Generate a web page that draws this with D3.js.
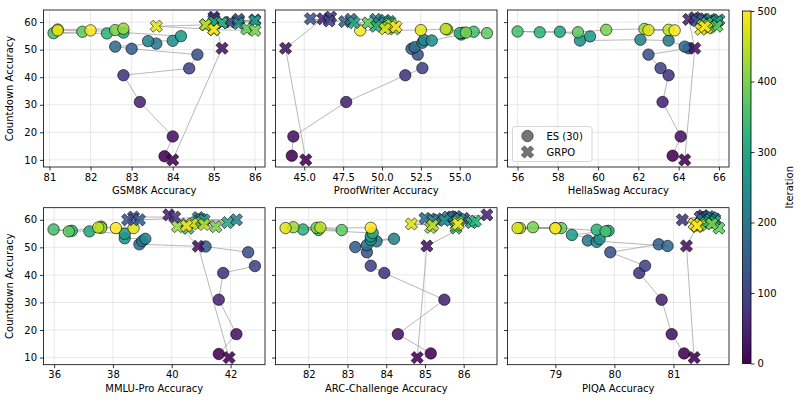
<!DOCTYPE html>
<html>
<head>
<meta charset="utf-8">
<script src="https://cdn.jsdelivr.net/npm/d3@7/dist/d3.min.js"></script>
<style>
  body { margin: 0; background: #fff; }
  svg { font-family: "DejaVu Sans", sans-serif; }
</style>
</head>
<body>
<div id="chart"></div>
<script>
// iteration of each checkpoint (colour)
var iterations = [0, 25, 50, 75, 100, 125, 150, 175, 200, 225, 250, 275, 300, 325, 350, 375, 400, 425, 450, 475, 500];

// GSM8K
var gsmEsX = [83.8, 84.0, 83.2, 82.8, 84.4, 84.6, 83.0, 82.6, 83.6, 83.4, 84.0, 84.2, 82.8, 82.4, 81.1, 81.8, 82.6, 82.8, 81.2, 81.2, 82.0];
var gsmEsY = [11.3, 18.5, 31.0, 40.7, 43.2, 48.2, 50.3, 51.1, 52.2, 53.1, 53.2, 54.9, 56.2, 55.9, 56.0, 56.5, 57.1, 57.6, 57.3, 57.0, 57.0];
var gsmGrpoX = [84.0, 85.2, 85.0, 85.0, 85.4, 85.6, 85.6, 85.2, 86.0, 85.0, 85.6, 86.0, 85.0, 85.2, 84.8, 85.8, 86.0, 85.0, 84.8, 83.6, 85.0];
var gsmGrpoY = [10.0, 50.5, 61.8, 61.0, 60.0, 60.5, 61.0, 59.8, 60.8, 59.5, 59.5, 60.5, 60.0, 59.7, 59.0, 57.5, 57.0, 57.2, 59.0, 58.5, 57.3];

// ProofWriter
var pwEsX = [44.2, 44.3, 47.7, 51.5, 52.6, 52.3, 51.9, 52.1, 52.6, 52.7, 53.2, 55.1, 55.2, 55.0, 55.9, 56.75, 55.4, 54.2, 54.1, 52.5, 48.6];
var pwEsY = [11.5, 18.5, 31.0, 40.7, 43.3, 48.2, 50.3, 50.9, 52.5, 53.5, 53.3, 55.5, 56.1, 56.0, 56.5, 56.0, 56.2, 57.3, 57.5, 57.1, 57.0];
var pwGrpoX = [45.1, 43.8, 46.2, 46.7, 46.6, 45.4, 47.6, 48.0, 49.6, 50.2, 49.8, 50.5, 48.2, 49.6, 50.5, 49.1, 50.8, 50.4, 50.6, 50.2, 50.9];
var pwGrpoY = [10.0, 50.5, 61.2, 61.8, 60.4, 61.2, 60.2, 61.0, 61.0, 60.6, 59.6, 60.2, 59.8, 58.5, 59.4, 59.7, 57.5, 58.2, 59.0, 57.6, 58.3];

// HellaSwag
var hsEsX = [63.7, 64.1, 63.2, 63.5, 63.1, 62.5, 64.5, 64.3, 63.5, 62.1, 59.1, 59.6, 58.1, 57.1, 56.0, 59.0, 60.4, 62.3, 63.5, 62.5, 63.8];
var hsEsY = [11.5, 18.5, 31.0, 40.7, 43.3, 48.2, 50.5, 51.1, 53.3, 53.6, 53.3, 54.8, 56.5, 56.3, 56.6, 56.3, 57.2, 57.5, 57.2, 57.1, 57.0];
var hsGrpoX = [64.3, 64.8, 64.5, 64.8, 65.0, 64.9, 65.2, 65.5, 65.6, 65.8, 66.0, 65.7, 65.9, 65.6, 65.4, 65.9, 65.5, 65.2, 65.4, 65.1, 65.3];
var hsGrpoY = [10.0, 50.5, 61.0, 61.6, 61.2, 60.5, 61.0, 60.5, 61.0, 60.0, 60.8, 59.5, 60.2, 59.0, 59.6, 58.5, 58.0, 58.8, 57.8, 57.4, 58.4];

// MMLU-Pro
var mmEsX = [41.6, 42.2, 41.6, 41.75, 42.83, 42.6, 41.15, 38.9, 39.0, 39.1, 38.4, 38.4, 37.2, 36.6, 35.98, 36.5, 37.6, 37.6, 37.5, 38.7, 38.1];
var mmEsY = [11.3, 18.5, 31.0, 40.7, 43.2, 48.2, 50.3, 51.1, 52.3, 53.1, 53.3, 54.9, 55.8, 56.0, 56.5, 55.8, 57.5, 57.1, 57.2, 57.0, 57.0];
var mmGrpoX = [41.95, 40.9, 39.9, 40.1, 38.7, 38.5, 38.9, 40.9, 41.0, 42.2, 40.9, 41.1, 41.9, 40.5, 40.55, 40.8, 41.5, 40.2, 41.1, 40.7, 40.5];
var mmGrpoY = [10.0, 50.4, 61.8, 61.0, 61.0, 60.0, 60.0, 60.8, 60.1, 60.0, 59.3, 60.0, 59.0, 58.4, 56.9, 59.0, 57.5, 57.5, 58.3, 58.5, 57.8];

// ARC-Challenge
var arcEsX = [85.15, 84.3, 85.5, 83.95, 83.6, 83.5, 83.2, 83.5, 83.75, 84.2, 83.6, 83.6, 83.65, 81.85, 82.25, 82.85, 82.2, 81.6, 82.3, 81.4, 83.6];
var arcEsY = [11.5, 18.5, 31.0, 40.7, 43.3, 48.2, 50.1, 50.8, 52.2, 53.1, 52.7, 54.0, 55.2, 56.5, 56.3, 56.3, 57.1, 57.3, 57.2, 57.0, 57.1];
var arcGrpoX = [84.8, 85.05, 86.6, 85.7, 86.0, 85.8, 85.3, 85.0, 85.6, 85.2, 85.5, 85.9, 86.2, 86.3, 85.8, 85.8, 85.85, 85.15, 85.2, 84.65, 85.85];
var arcGrpoY = [10.0, 50.5, 61.8, 61.0, 60.5, 61.2, 60.3, 60.5, 61.0, 59.9, 59.8, 60.2, 59.0, 59.5, 57.0, 58.0, 59.3, 57.2, 58.0, 58.5, 58.4];

// PIQA
var piqaEsX = [81.18, 80.97, 80.8, 80.42, 80.52, 79.93, 80.75, 80.9, 79.55, 79.7, 79.75, 79.28, 79.9, 79.7, 79.85, 79.1, 78.62, 78.4, 79.0, 78.36, 79.0];
var piqaEsY = [11.5, 18.5, 31.0, 40.7, 43.3, 48.2, 51.1, 50.5, 52.5, 52.0, 53.0, 54.5, 56.0, 56.4, 55.8, 57.0, 57.3, 57.0, 57.0, 57.0, 56.9];
var piqaGrpoX = [81.35, 81.22, 81.5, 81.15, 81.45, 81.55, 81.6, 81.7, 81.65, 81.5, 81.58, 81.62, 81.7, 81.6, 81.55, 81.77, 81.65, 81.45, 81.4, 81.35, 81.4];
var piqaGrpoY = [10.0, 50.5, 61.5, 60.0, 61.0, 60.5, 61.2, 60.3, 60.8, 60.0, 59.5, 60.0, 59.5, 59.0, 58.8, 57.0, 58.5, 58.0, 57.5, 58.5, 57.8];

var yTicks = [10, 20, 30, 40, 50, 60];
var cbTicks = [0, 100, 200, 300, 400, 500];

var panels = [
  { label: "GSM8K Accuracy", esX: gsmEsX, esY: gsmEsY, grX: gsmGrpoX, grY: gsmGrpoY, ticks: [81, 82, 83, 84, 85, 86], fmt: "d" },
  { label: "ProofWriter Accuracy", esX: pwEsX, esY: pwEsY, grX: pwGrpoX, grY: pwGrpoY, ticks: [45, 47.5, 50, 52.5, 55], fmt: ".1f" },
  { label: "HellaSwag Accuracy", esX: hsEsX, esY: hsEsY, grX: hsGrpoX, grY: hsGrpoY, ticks: [56, 58, 60, 62, 64, 66], fmt: "d" },
  { label: "MMLU-Pro Accuracy", esX: mmEsX, esY: mmEsY, grX: mmGrpoX, grY: mmGrpoY, ticks: [36, 38, 40, 42], fmt: "d" },
  { label: "ARC-Challenge Accuracy", esX: arcEsX, esY: arcEsY, grX: arcGrpoX, grY: arcGrpoY, ticks: [82, 83, 84, 85, 86], fmt: "d" },
  { label: "PIQA Accuracy", esX: piqaEsX, esY: piqaEsY, grX: piqaGrpoX, grY: piqaGrpoY, ticks: [79, 80, 81], fmt: "d" }
];

var W = 800, H = 404;
var colLeft = [43.5, 275.5, 507.5], rowTop = [10, 207.7];
var pw = 221.5, ph = 157;

var svg = d3.select("#chart").append("svg").attr("width", W).attr("height", H);

var color = d3.scaleSequential(d3.interpolateViridis).domain([0, 500]);

// shared y domain like matplotlib's sharey with 5% margins
var allY = [];
panels.forEach(function (p) { allY = allY.concat(p.esY, p.grY); });
var yMin = d3.min(allY), yMax = d3.max(allY), yPad = (yMax - yMin) * 0.05;

// filled "X" marker from matplotlib
var xPath = (function () {
  var s = 3.05;
  var pts = [[-1, -2], [0, -1], [1, -2], [2, -1], [1, 0], [2, 1], [1, 2], [0, 1], [-1, 2], [-2, 1], [-1, 0], [-2, -1]];
  return "M" + pts.map(function (q) { return (q[0] * s) + "," + (q[1] * s); }).join("L") + "Z";
})();

panels.forEach(function (p, i) {
  var col = i % 3, row = Math.floor(i / 3);
  var g = svg.append("g").attr("transform", "translate(" + colLeft[col] + "," + rowTop[row] + ")");

  var ext = d3.extent(p.esX.concat(p.grX));
  var pad = (ext[1] - ext[0]) * 0.05;
  var x = d3.scaleLinear().domain([ext[0] - pad, ext[1] + pad]).range([0, pw]);
  var y = d3.scaleLinear().domain([yMin - yPad, yMax + yPad]).range([ph, 0]);

  // grid
  g.append("g").selectAll("line").data(p.ticks).enter().append("line")
    .attr("x1", function (d) { return x(d); }).attr("x2", function (d) { return x(d); })
    .attr("y1", 0).attr("y2", ph).attr("stroke", "#b0b0b0").attr("stroke-opacity", 0.35).attr("stroke-width", 0.8);
  g.append("g").selectAll("line").data(yTicks).enter().append("line")
    .attr("y1", function (d) { return y(d); }).attr("y2", function (d) { return y(d); })
    .attr("x1", 0).attr("x2", pw).attr("stroke", "#b0b0b0").attr("stroke-opacity", 0.35).attr("stroke-width", 0.8);

  // axes
  var xa = g.append("g").attr("transform", "translate(0," + ph + ")")
    .call(d3.axisBottom(x).tickValues(p.ticks).tickSize(3.5).tickPadding(3).tickFormat(d3.format(p.fmt)));
  var ya = g.append("g")
    .call(d3.axisLeft(y).tickValues(yTicks).tickSize(3.5).tickPadding(3).tickFormat(col === 0 ? d3.format("d") : ""));
  [xa, ya].forEach(function (a) {
    a.select(".domain").remove();
    a.selectAll("text").attr("font-size", 10).attr("fill", "#000").attr("font-family", "DejaVu Sans, sans-serif");
    a.selectAll("line").attr("stroke", "#000").attr("stroke-width", 0.8);
  });

  g.append("text").attr("x", pw / 2).attr("y", ph + 27).attr("text-anchor", "middle")
    .attr("font-size", 10).text(p.label);
  if (col === 0) {
    g.append("text").attr("transform", "translate(-31," + (ph / 2) + ") rotate(-90)")
      .attr("text-anchor", "middle").attr("font-size", 10).text("Countdown Accuracy");
  }

  var line = d3.line().x(function (d) { return x(d[0]); }).y(function (d) { return y(d[1]); });
  var es = p.esX.map(function (v, k) { return [v, p.esY[k], iterations[k]]; });
  var gr = p.grX.map(function (v, k) { return [v, p.grY[k], iterations[k]]; });

  [es, gr].forEach(function (s) {
    g.append("path").datum(s).attr("d", line).attr("fill", "none")
      .attr("stroke", "#888").attr("stroke-opacity", 0.6).attr("stroke-width", 1);
  });

  g.append("g").selectAll("circle").data(es).enter().append("circle")
    .attr("cx", function (d) { return x(d[0]); }).attr("cy", function (d) { return y(d[1]); })
    .attr("r", 5.7).attr("fill", function (d) { return color(d[2]); }).attr("fill-opacity", 0.88)
    .attr("stroke", "#000").attr("stroke-opacity", 0.85).attr("stroke-width", 0.7);

  g.append("g").selectAll("path").data(gr).enter().append("path")
    .attr("d", xPath)
    .attr("transform", function (d) { return "translate(" + x(d[0]) + "," + y(d[1]) + ")"; })
    .attr("fill", function (d) { return color(d[2]); }).attr("fill-opacity", 0.88)
    .attr("stroke", "#000").attr("stroke-opacity", 0.85).attr("stroke-width", 0.7);

  // frame
  g.append("rect").attr("width", pw).attr("height", ph).attr("fill", "none")
    .attr("stroke", "#000").attr("stroke-width", 0.8);

  // legend on HellaSwag panel
  if (i === 2) {
    var lg = g.append("g").attr("transform", "translate(5," + (ph - 40.5) + ")");
    lg.append("rect").attr("width", 79.5).attr("height", 35).attr("rx", 2.5)
      .attr("fill", "#fff").attr("fill-opacity", 0.8).attr("stroke", "#ccc").attr("stroke-width", 0.8);
    lg.append("circle").attr("cx", 15).attr("cy", 9.5).attr("r", 5.7)
      .attr("fill", "#666").attr("fill-opacity", 0.9).attr("stroke", "#333").attr("stroke-width", 0.7);
    lg.append("path").attr("d", xPath).attr("transform", "translate(15,25.5)")
      .attr("fill", "#666").attr("fill-opacity", 0.9).attr("stroke", "#333").attr("stroke-width", 0.7);
    lg.append("text").attr("x", 34).attr("y", 13).attr("font-size", 10).text("ES (30)");
    lg.append("text").attr("x", 34).attr("y", 29).attr("font-size", 10).text("GRPO");
  }
});

// colorbar
var cbX = 742.5, cbW = 8.5, cbTop = 11, cbBot = 363.5;
var grad = svg.append("defs").append("linearGradient").attr("id", "vir")
  .attr("x1", 0).attr("y1", 1).attr("x2", 0).attr("y2", 0);
d3.range(0, 1.0001, 0.05).forEach(function (t) {
  grad.append("stop").attr("offset", t).attr("stop-color", d3.interpolateViridis(t));
});
svg.append("rect").attr("x", cbX).attr("y", cbTop).attr("width", cbW).attr("height", cbBot - cbTop)
  .attr("fill", "url(#vir)").attr("stroke", "#000").attr("stroke-width", 0.8);
var cy = d3.scaleLinear().domain([0, 500]).range([cbBot, cbTop]);
var ca = svg.append("g").attr("transform", "translate(" + (cbX + cbW) + ",0)")
  .call(d3.axisRight(cy).tickValues(cbTicks).tickSize(3.5).tickPadding(3));
ca.select(".domain").remove();
ca.selectAll("text").attr("font-size", 10).attr("fill", "#000").attr("font-family", "DejaVu Sans, sans-serif");
ca.selectAll("line").attr("stroke", "#000").attr("stroke-width", 0.8);
svg.append("text").attr("transform", "translate(793," + ((cbTop + cbBot) / 2) + ") rotate(-90)")
  .attr("text-anchor", "middle").attr("font-size", 10).text("Iteration");
</script>
</body>
</html>
